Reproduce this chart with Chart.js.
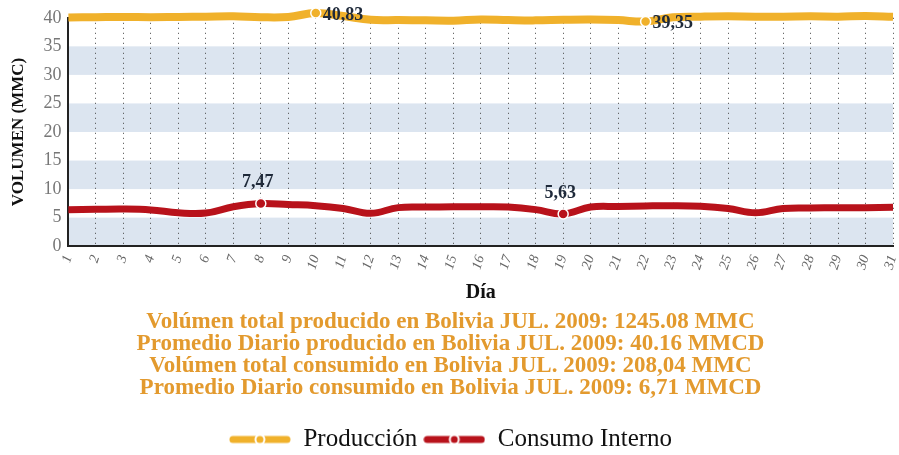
<!DOCTYPE html>
<html>
<head>
<meta charset="utf-8">
<script src="https://cdn.jsdelivr.net/npm/chart.js@4/dist/chart.umd.min.js"></script>
<style>
  html, body { margin: 0; padding: 0; background: #fff; }
</style>
</head>
<body>
<canvas id="gas-chart" width="899" height="455"></canvas>
<script>
// Días del mes
const dias = ["1","2","3","4","5","6","7","8","9","10","11","12","13","14","15","16",
  "17","18","19","20","21","22","23","24","25","26","27","28","29","30","31"];

// Producción diaria (MMC)
const produccion = [40.05, 40.1, 40.15, 40.1, 40.15, 40.2, 40.25, 40.1, 40.15, 40.83,
  40.3, 39.65, 39.6, 39.55, 39.5, 39.7, 39.6, 39.55, 39.65, 39.7, 39.6, 39.35,
  40.1, 40.2, 40.25, 40.2, 40.2, 40.25, 40.2, 40.3, 40.2];

// Consumo interno diario (MMC)
const consumo = [6.4, 6.45, 6.5, 6.35, 5.85, 5.8, 6.9, 7.47, 7.3, 7.1, 6.6, 5.75,
  6.75, 6.85, 6.9, 6.9, 6.85, 6.4, 5.63, 6.85, 6.95, 7.05, 7.1, 7.0, 6.6, 5.85,
  6.6, 6.7, 6.75, 6.75, 6.8];

const yTicks = [0, 5, 10, 15, 20, 25, 30, 35, 40];

const resumen = [
  "Volúmen total producido en Bolivia JUL. 2009: 1245.08 MMC",
  "Promedio Diario producido en Bolivia JUL. 2009: 40.16 MMCD",
  "Volúmen total consumido en Bolivia JUL. 2009: 208,04 MMC",
  "Promedio Diario consumido en Bolivia JUL. 2009: 6,71 MMCD"
];

const ORO = "#F0B12B";
const ROJO = "#B8121B";
const SERIF = "'Liberation Serif', 'DejaVu Serif', serif";

// puntos destacados: máximo y mínimo de cada serie
function extremos(arr) {
  return [arr.indexOf(Math.max(...arr)), arr.indexOf(Math.min(...arr))];
}
const marcasProd = extremos(produccion);
const marcasCons = extremos(consumo);

// muestra de leyenda: línea gruesa con punto
function muestra(color) {
  const c = document.createElement("canvas");
  c.width = 62; c.height = 12;
  const g = c.getContext("2d");
  g.strokeStyle = color; g.lineWidth = 7; g.lineCap = "round";
  g.beginPath(); g.moveTo(4, 6); g.lineTo(58, 6); g.stroke();
  g.fillStyle = color; g.strokeStyle = "#fff"; g.lineWidth = 2;
  g.beginPath(); g.arc(31, 6, 4.5, 0, Math.PI * 2); g.fill(); g.stroke();
  return c;
}
const muestras = [muestra(ORO), muestra(ROJO)];

// franjas horizontales alternas
const franjas = {
  id: "franjas",
  beforeDraw(chart) {
    const { ctx, chartArea: a, scales: { y } } = chart;
    ctx.save();
    ctx.fillStyle = "#DCE5F0";
    for (let i = 0; i < yTicks.length - 1; i += 2) {
      const top = y.getPixelForValue(yTicks[i + 1]);
      const bot = y.getPixelForValue(yTicks[i]);
      ctx.fillRect(a.left, top, a.right - a.left, bot - top);
    }
    ctx.restore();
  }
};

// etiquetas de valores en máximos y mínimos
const etiquetas = {
  id: "etiquetas",
  afterDatasetsDraw(chart) {
    const { ctx } = chart;
    ctx.save();
    ctx.font = "bold 18px " + SERIF;
    ctx.fillStyle = "#1F2A3A";
    const p = chart.getDatasetMeta(0).data;
    marcasProd.forEach(i => {
      ctx.textAlign = "left"; ctx.textBaseline = "middle";
      ctx.fillText(produccion[i].toFixed(2).replace(".", ","), p[i].x + 7, p[i].y + 2);
    });
    const c = chart.getDatasetMeta(1).data;
    marcasCons.forEach(i => {
      ctx.textAlign = "center"; ctx.textBaseline = "bottom";
      ctx.fillText(consumo[i].toFixed(2).replace(".", ","), c[i].x - 3, c[i].y - 12);
    });
    ctx.restore();
  }
};

const ctx = document.getElementById("gas-chart").getContext("2d");
const gasChart = new Chart(ctx, {
  type: "line",
  data: {
    labels: dias,
    datasets: [{
      label: "Producción",
      data: produccion,
      borderColor: ORO,
      backgroundColor: ORO,
      borderWidth: 8,
      tension: 0.4,
      clip: false,
      pointRadius: c => marcasProd.includes(c.dataIndex) ? 5 : 0,
      pointBorderColor: "#fff",
      pointBorderWidth: 1.5,
      fill: false
    }, {
      label: "Consumo Interno",
      data: consumo,
      borderColor: ROJO,
      backgroundColor: ROJO,
      borderWidth: 7,
      tension: 0.4,
      clip: false,
      pointRadius: c => marcasCons.includes(c.dataIndex) ? 5 : 0,
      pointBorderColor: "#fff",
      pointBorderWidth: 1.5,
      fill: false
    }]
  },
  options: {
    responsive: false,
    animation: false,
    layout: { padding: { top: 6, right: 6, left: 8, bottom: -7 } },
    scales: {
      x: {
        offset: false,
        afterFit: s => { s.paddingRight = 0; },
        grid: {
          color: "#444",
          lineWidth: 1,
          drawTicks: false
        },
        border: { color: "#222", width: 2, dash: [1, 4] },
        ticks: {
          color: "#666",
          font: { family: SERIF, size: 14, style: "italic" },
          minRotation: 72,
          maxRotation: 72,
          padding: 7,
          autoSkip: false
        },
        title: {
          display: true,
          text: "Día",
          color: "#111",
          font: { family: SERIF, size: 20, weight: "bold" },
          padding: { top: 2, bottom: 6 }
        }
      },
      y: {
        min: 0,
        max: 40,
        afterBuildTicks: s => { s.ticks = yTicks.map(v => ({ value: v })); },
        grid: { display: false, drawTicks: false },
        border: { color: "#222", width: 2 },
        ticks: {
          color: "#777",
          font: { family: SERIF, size: 18 },
          padding: 7
        },
        title: {
          display: true,
          text: "VOLUMEN (MMC)",
          color: "#111",
          font: { family: SERIF, size: 17, weight: "bold" },
          padding: { top: 0, bottom: 8 }
        }
      }
    },
    plugins: {
      tooltip: { enabled: false },
      subtitle: {
        display: true,
        position: "bottom",
        weight: 500,
        text: resumen,
        color: "#E39A2E",
        font: { family: SERIF, size: 23, weight: "bold", lineHeight: 0.96 },
        padding: { top: 0, bottom: 22 }
      },
      legend: {
        position: "bottom",
        weight: 1000,
        labels: {
          usePointStyle: true,
          pointStyleWidth: 62,
          color: "#111",
          font: { family: SERIF, size: 25 },
          padding: 6,
          generateLabels: chart => {
            const items = Chart.defaults.plugins.legend.labels.generateLabels(chart);
            items.forEach((it, i) => { it.pointStyle = muestras[i]; });
            return items;
          }
        }
      }
    }
  },
  plugins: [franjas, etiquetas]
});
</script>
</body>
</html>
